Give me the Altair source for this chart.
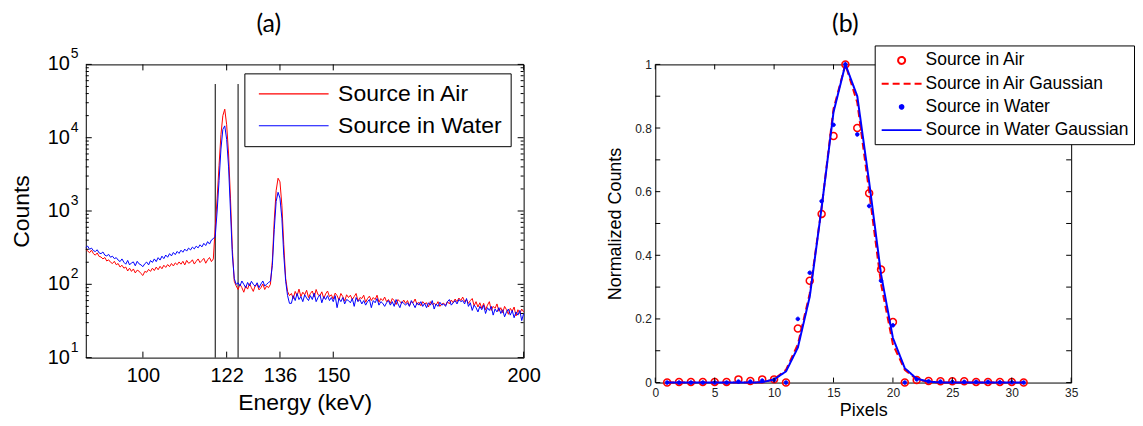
import altair as alt
import pandas as pd

FONT = "Liberation Sans"
RED = "#ff0000"
BLUE = "#0000ff"

# ---------------- panel (a): energy spectra ----------------
air_counts = [
    # 85.0 - 99.5
    300, 285, 270, 292, 262, 250, 268, 240, 236, 222, 232, 208, 216, 200, 192,
    206, 185, 192, 172, 182, 166, 172, 152, 166, 150, 162, 143, 156, 151, 140,
    # 100.0 - 118.5
    132, 150, 146, 160, 150, 166, 154, 172, 158, 176, 163, 182, 170, 186, 174,
    192, 178, 196, 185, 202, 188, 206, 184, 212, 194, 200, 216, 189, 206, 222,
    198, 211, 226, 194, 216, 232, 204, 222,
    # 119.0 - 124.5
    600, 1500, 4200, 11000, 20000, 24500, 15000, 6000, 1500, 300, 110, 95,
    # 125.0 - 133.0
    85, 100, 90, 78, 95, 86, 102, 90, 80, 96, 100, 84, 90, 101, 85, 95, 90,
    # 133.5 - 138.5
    100, 210, 750, 1900, 2800, 2500, 1200, 350, 120, 80, 70,
    # 139.0 - 200.0
    75, 64, 80, 70, 86, 68, 78, 72, 83, 66,
    75, 81, 67, 85, 72, 70, 79, 64, 74, 81,
    68, 72, 63, 76, 70, 61, 75, 68, 59, 72,
    66, 71, 62, 68, 75, 59, 66, 64, 71, 57,
    64, 69, 60, 66, 62, 71, 57, 64, 60, 67,
    58, 62, 55, 64, 60, 53, 62, 58, 55, 61,
    55, 60, 51, 58, 56, 63, 53, 57, 51, 58,
    54, 56, 49, 58, 53, 55, 52, 58, 50, 54,
    55, 52, 58, 54, 61, 56, 63, 58, 65, 60,
    67, 58, 62, 55, 60, 64, 51, 58, 49, 56,
    47, 55, 45, 52, 58, 44, 50, 47, 54, 43,
    48, 41, 50, 45, 39, 47, 43, 49, 37, 45,
    40, 46, 42,
]
water_counts = [
    # 85.0 - 99.5
    320, 332, 300, 312, 288, 280, 296, 268, 262, 276, 250, 244, 256, 234, 242,
    224, 231, 214, 204, 222, 200, 188, 212, 184, 196, 202, 179, 206, 190, 184,
    # 100.0 - 118.5
    174, 191, 201, 184, 211, 199, 222, 204, 231, 214, 242, 224, 251, 234, 262,
    244, 272, 254, 281, 264, 292, 274, 302, 284, 312, 294, 322, 304, 332, 314,
    346, 324, 362, 338, 382, 354, 402, 420,
    # 119.0 - 124.5
    450, 1000, 2600, 7000, 13000, 14500, 9500, 4000, 1000, 250, 120, 100,
    # 125.0 - 133.0
    105, 95, 111, 100, 90, 106, 95, 110, 100, 94, 105, 90, 101, 111, 95, 100, 106,
    # 133.5 - 138.5
    110, 180, 560, 1350, 1800, 1500, 800, 250, 110, 70, 55,
    # 139.0 - 200.0
    55, 70, 60, 75, 62, 68, 58, 72, 65, 60,
    70, 62, 76, 58, 66, 72, 56, 68, 62, 70,
    60, 66, 58, 70, 48, 64, 58, 66, 54, 62,
    60, 56, 64, 50, 66, 58, 62, 54, 60, 52,
    58, 62, 48, 60, 56, 64, 52, 58, 55, 50,
    56, 60, 52, 58, 50, 62, 54, 48, 58, 55,
    52, 56, 50, 60, 54, 48, 56, 52, 58, 50,
    55, 48, 56, 52, 60, 46, 54, 50, 57, 52,
    54, 50, 58, 62, 52, 56, 60, 54, 62, 58,
    60, 54, 64, 50, 56, 44, 52, 48, 42, 50,
    45, 52, 40, 48, 44, 50, 38, 46, 42, 48,
    40, 45, 36, 42, 46, 38, 44, 35, 42, 38,
    44, 32, 40,
]
energy = [85.0 + 0.5 * i for i in range(len(air_counts))]  # channel calibration, 0.5 keV bins
spectrum_names = ["Source in Air", "Source in Water"]
window_edges = [119, 125]
window_low, window_high = 10, 54000
energy_domain = [85, 200]
energy_ticks = [100, 122, 136, 150, 200]
count_major = [10, 100, 1000, 10000, 100000]
count_exps = ["1", "2", "3", "4", "5"]
count_minor = [m * 10 ** k for k in range(1, 5) for m in range(2, 10)]

# ---------------- panel (b): normalized profiles ----------------
pixels = list(range(1, 32))
air_points = [0.0, 0.002, 0.002, 0.002, 0.002, 0.002, 0.01, 0.005, 0.01, 0.01,
              0.0, 0.17, 0.32, 0.53, 0.775, 1.0, 0.80, 0.595, 0.355, 0.19,
              0.0, 0.008, 0.005, 0.004, 0.004, 0.004, 0.002, 0.002, 0.002, 0.002, 0.0]
water_points = [0.0, 0.0, 0.0, 0.0, 0.0, 0.0, 0.003, 0.003, 0.006, 0.008,
                0.0, 0.20, 0.345, 0.57, 0.81, 1.0, 0.78, 0.555, 0.32, 0.18,
                0.0, 0.01, 0.004, 0.003, 0.002, 0.002, 0.002, 0.002, 0.001, 0.001, 0.0]
air_gauss = [0.0, 0.0, 0.0, 0.0, 0.0, 0.0, 0.0, 0.0, 0.001, 0.01,
             0.04, 0.12, 0.28, 0.55, 0.86, 1.0, 0.88, 0.60, 0.31, 0.12,
             0.04, 0.01, 0.002, 0.0, 0.0, 0.0, 0.0, 0.0, 0.0, 0.0, 0.0]
water_gauss = [0.0, 0.0, 0.0, 0.0, 0.0, 0.0, 0.0, 0.0, 0.001, 0.01,
               0.035, 0.11, 0.27, 0.55, 0.85, 1.0, 0.90, 0.63, 0.34, 0.14,
               0.045, 0.012, 0.003, 0.0, 0.0, 0.0, 0.0, 0.0, 0.0, 0.0, 0.0]
profile_names = ["Source in Air", "Source in Air Gaussian",
                 "Source in Water", "Source in Water Gaussian"]
pixel_domain = [0, 35]
pixel_ticks = [0, 5, 10, 15, 20, 25, 30, 35]
norm_ticks = [0, 0.1, 0.2, 0.3, 0.4, 0.5, 0.6, 0.7, 0.8, 0.9, 1]

# ---------------- layout / style ----------------
WA, HA = 439, 294
WB, HB = 417, 319
TICK = 6
# legend / marker glyphs (unit paths, scaled by sqrt(size)/2)
LEG_A_SEG = "M-3.04,0L3.04,0"          # 70 px at size 529
LEG_A_SIZE = 529
GLYPH_SIZE = 324                        # scale 9 px per unit
CIRCLE = "M0.389,0A0.389,0.389,0,1,1,-0.389,0A0.389,0.389,0,1,1,0.389,0Z"
DOT = "M0.2,0A0.2,0.2,0,1,1,-0.2,0A0.2,0.2,0,1,1,0.2,0Z"
SEG = "M-2.222,0L2.222,0"

# ---------- panel (a) ----------
n = len(energy)
spec_df = pd.DataFrame({
    "energy": energy * 2,
    "counts": air_counts + water_counts,
    "spec": [spectrum_names[0]] * n + [spectrum_names[1]] * n,
})
xs_a = alt.Scale(domain=energy_domain, nice=False, zero=False)
ys_a = alt.Scale(type="log", domain=[10, 100000], nice=False)

x_a = alt.X("energy:Q", scale=xs_a, axis=alt.Axis(
    values=energy_ticks, title="Energy (keV)", labelFontSize=20, titleFontSize=23,
    labelFont=FONT, titleFont=FONT, labelColor="black", titleColor="black",
    titleFontWeight="normal", ticks=False, domain=False, grid=False,
    labelPadding=8, titlePadding=6, labelFlush=False))
y_a = alt.Y("counts:Q", scale=ys_a, axis=alt.Axis(
    labels=False, ticks=False, domain=False, grid=False, title="Counts",
    titleFontSize=23, titleFont=FONT, titleColor="black", titleFontWeight="normal",
    titlePadding=52))

color_a = alt.Color("spec:N", scale=alt.Scale(domain=spectrum_names, range=[RED, BLUE]),
                    legend=alt.Legend(
                        title=None, orient="none", legendX=159, legendY=9,
                        symbolType=LEG_A_SEG, symbolSize=LEG_A_SIZE, symbolStrokeWidth=1.2,
                        symbolOpacity=1, labelLimit=0,
                        labelFontSize=23, labelFont=FONT, labelColor="black",
                        strokeColor="black", fillColor="white", padding=8,
                        rowPadding=7, labelOffset=32, symbolOffset=29))

win_df = pd.DataFrame({"energy": window_edges, "lo": [window_low] * 2, "hi": [window_high] * 2})
rules_a = alt.Chart(win_df).mark_rule(color="black", strokeWidth=1).encode(
    x=alt.X("energy:Q", scale=xs_a), y=alt.Y("lo:Q", scale=ys_a), y2="hi:Q")

lines_a = alt.Chart(spec_df).mark_line(strokeWidth=1).encode(
    x=x_a, y=y_a, color=color_a)

ymaj_df = pd.DataFrame({"v": count_major, "e": count_exps})
ymin_df = pd.DataFrame({"v": count_minor})
xt_a_df = pd.DataFrame({"v": energy_ticks})
yv = alt.Y("v:Q", scale=ys_a)
xv = alt.X("v:Q", scale=xs_a)
tick_layers_a = [
    alt.Chart(ymaj_df).mark_rule(color="black").encode(y=yv, x=alt.value(0), x2=alt.value(TICK)),
    alt.Chart(ymaj_df).mark_rule(color="black").encode(y=yv, x=alt.value(WA), x2=alt.value(WA - TICK)),
    alt.Chart(ymin_df).mark_rule(color="black").encode(y=yv, x=alt.value(0), x2=alt.value(3)),
    alt.Chart(ymin_df).mark_rule(color="black").encode(y=yv, x=alt.value(WA), x2=alt.value(WA - 3)),
    alt.Chart(xt_a_df).mark_rule(color="black").encode(x=xv, y=alt.value(HA), y2=alt.value(HA - TICK)),
    alt.Chart(xt_a_df).mark_rule(color="black").encode(x=xv, y=alt.value(0), y2=alt.value(TICK)),
]
base_lab = alt.Chart(ymaj_df).mark_text(align="right", baseline="middle", fontSize=20,
                                        font=FONT, color="black").encode(
    y=yv, x=alt.value(-16), text=alt.value("10"))
exp_lab = alt.Chart(ymaj_df).mark_text(align="left", baseline="middle", fontSize=14,
                                       font=FONT, color="black", dy=-10).encode(
    y=yv, x=alt.value(-15), text="e:N")

panel_a = alt.layer(rules_a, lines_a, *tick_layers_a, base_lab, exp_lab).properties(
    width=WA, height=HA,
    title=alt.TitleParams("(a)", fontSize=25, font="Lato", fontWeight="normal",
                          anchor="middle", dx=-36, offset=10, color="black"))

# ---------- panel (b) ----------
xs_b = alt.Scale(domain=pixel_domain, nice=False, zero=False)
ys_b = alt.Scale(domain=[0, 1], nice=False)
x_b = alt.X("pixel:Q", scale=xs_b, axis=alt.Axis(
    values=pixel_ticks, title="Pixels", labelFontSize=12, titleFontSize=18,
    labelFont=FONT, titleFont=FONT, labelColor="#222222", titleColor="black",
    titleFontWeight="normal", ticks=False, domain=False, grid=False,
    labelPadding=5, titlePadding=3, labelFlush=False, labelOverlap=False))
y_b = alt.Y("value:Q", scale=ys_b, axis=alt.Axis(
    values=norm_ticks,
    labelExpr="datum.value == 0 ? '0' : datum.value == 1 ? '1' : format(datum.value, '.1f')",
    title="Normalized Counts", labelFontSize=12, titleFontSize=18,
    labelFont=FONT, titleFont=FONT, labelColor="#222222", titleColor="black",
    titleFontWeight="normal", ticks=False, domain=False, grid=False,
    labelPadding=4, titlePadding=10, labelFlush=False, labelOverlap=False))

legend_b = alt.Legend(
    title=None, orient="none", legendX=220, legendY=-19,
    symbolSize=GLYPH_SIZE, symbolStrokeWidth=2, symbolOpacity=1, labelLimit=0,
    labelFontSize=17.5, labelFont=FONT, labelColor="black",
    strokeColor="black", fillColor="white", padding=5, rowPadding=4.3,
    labelOffset=14, symbolOffset=12)
stroke_b = alt.Stroke("series:N", scale=alt.Scale(domain=profile_names, range=[RED, RED, BLUE, BLUE]),
                      legend=legend_b)
fill_b = alt.Fill("series:N", scale=alt.Scale(domain=profile_names,
                                              range=["transparent", "transparent", BLUE, "transparent"]),
                  legend=legend_b)
shape_b = alt.Shape("series:N", scale=alt.Scale(domain=profile_names, range=[CIRCLE, SEG, DOT, SEG]),
                    legend=legend_b)
dash_b = alt.StrokeDash("series:N", scale=alt.Scale(domain=profile_names,
                                                    range=[[1, 0], [7, 4], [1, 0], [1, 0]]),
                        legend=legend_b)


def prof(values, name):
    return pd.DataFrame({"pixel": pixels, "value": values, "series": [name] * len(pixels)})


air_pts = alt.Chart(prof(air_points, profile_names[0])).mark_point(
    filled=True, size=GLYPH_SIZE, strokeWidth=1.5, opacity=1).encode(
    x=x_b, y=y_b, stroke=stroke_b, fill=fill_b, shape=shape_b)
air_fit = alt.Chart(prof(air_gauss, profile_names[1])).mark_line(
    strokeWidth=2).encode(x=x_b, y=y_b, stroke=stroke_b, strokeDash=dash_b)
water_pts = alt.Chart(prof(water_points, profile_names[2])).mark_point(
    filled=True, size=GLYPH_SIZE, strokeWidth=1, opacity=1).encode(
    x=x_b, y=y_b, stroke=stroke_b, fill=fill_b, shape=shape_b)
water_fit = alt.Chart(prof(water_gauss, profile_names[3])).mark_line(
    strokeWidth=2).encode(x=x_b, y=y_b, stroke=stroke_b, strokeDash=dash_b)

xt_b_df = pd.DataFrame({"v": pixel_ticks})
yt_b_df = pd.DataFrame({"v": norm_ticks})
xvb = alt.X("v:Q", scale=xs_b)
yvb = alt.Y("v:Q", scale=ys_b)
tick_layers_b = [
    alt.Chart(xt_b_df).mark_rule(color="black").encode(x=xvb, y=alt.value(HB), y2=alt.value(HB - 5)),
    alt.Chart(xt_b_df).mark_rule(color="black").encode(x=xvb, y=alt.value(0), y2=alt.value(5)),
    alt.Chart(yt_b_df).mark_rule(color="black").encode(y=yvb, x=alt.value(0), x2=alt.value(5)),
    alt.Chart(yt_b_df).mark_rule(color="black").encode(y=yvb, x=alt.value(WB), x2=alt.value(WB - 5)),
]

panel_b = alt.layer(air_pts, air_fit, water_pts, water_fit, *tick_layers_b).properties(
    width=WB, height=HB,
    title=alt.TitleParams("(b)", fontSize=25, font="Lato", fontWeight="normal",
                          anchor="middle", dx=-18, offset=8, color="black"))

indep = dict(color="independent", stroke="independent", fill="independent",
             shape="independent", strokeDash="independent")
chart = alt.hconcat(panel_a, panel_b, spacing=132, bounds="flush").resolve_scale(
    x="independent", y="independent", **indep
).resolve_legend(**indep).properties(
    padding={"left": 2, "top": 3, "right": 0, "bottom": 0},
    background="white",
).configure_view(stroke="black", strokeWidth=1)

chart.save("out.html", embed_options={"renderer": "svg", "actions": False})
